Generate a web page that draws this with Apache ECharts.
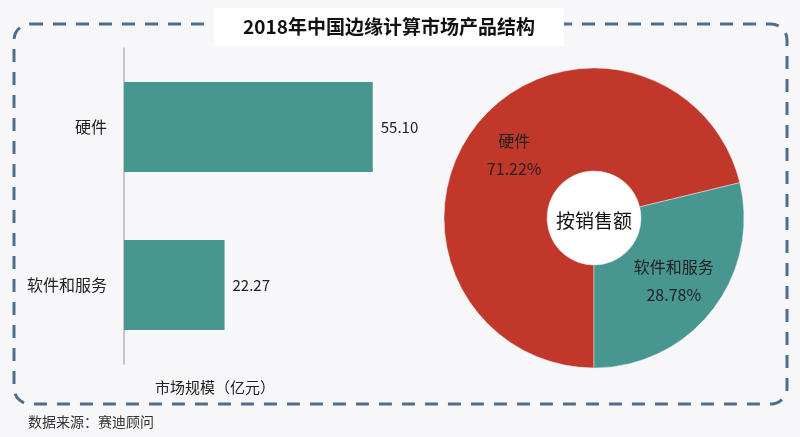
<!DOCTYPE html>
<html><head><meta charset="utf-8">
<script src="https://cdn.jsdelivr.net/npm/echarts@6/dist/echarts.min.js"></script>
<style>html,body{margin:0;padding:0;background:#f7f7f9;}#c{width:800px;height:437px;}</style>
</head><body><div id="c"></div>
<script>
var titleText = '2018年中国边缘计算市场产品结构';
var categories = ['硬件', '软件和服务'];
var marketSize = [55.10, 22.27];
var axisName = '市场规模（亿元）';
var pieCenterText = '按销售额';
var sourceText = '数据来源：赛迪顾问';

var FONT = '"Noto Sans CJK SC", "Noto Sans", sans-serif';
var TEAL = '#479690', RED = '#c1372a';
var total = marketSize.reduce(function(a,b){return a+b;},0);

var chart = echarts.init(document.getElementById('c'));
chart.setOption({
  backgroundColor: '#f7f7f9',
  textStyle: {fontFamily: FONT},
  graphic: [
    {type:'rect', z:1, shape:{x:14, y:24, width:773, height:380, r:16},
     style:{fill:'none', stroke:'#4d6f8d', lineWidth:3, lineDash:[13,10]}},
    {type:'rect', z:2, shape:{x:214, y:8, width:350, height:38},
     style:{fill:'#ffffff'}},
    {type:'text', z:3, x:389, y:27,
     style:{text:titleText, font:'bold 19px ' + FONT, fill:'#111', textAlign:'center', textVerticalAlign:'middle'}},
    {type:'text', z:3, x:215, y:387,
     style:{text:axisName, font:'15px ' + FONT, fill:'#222', textAlign:'center', textVerticalAlign:'middle'}},
    {type:'text', z:3, x:28, y:422,
     style:{text:sourceText, font:'14px ' + FONT, fill:'#333', textAlign:'left', textVerticalAlign:'middle'}},
    {type:'circle', z:1, shape:{cx:594, cy:218, r:48}, style:{fill:'#ffffff'}},
    {type:'text', z:10, x:594, y:221,
     style:{text:pieCenterText, font:'19px ' + FONT, fill:'#111', textAlign:'center', textVerticalAlign:'middle'}}
  ],
  grid: {left:124, top:48, width:316, height:316},
  xAxis: {type:'value', min:0, max:70, show:false},
  yAxis: {type:'category', data:categories, inverse:true,
    axisLine:{show:true, lineStyle:{color:'#b5b5b5', width:1.5}},
    axisTick:{show:false},
    axisLabel:{margin:17, fontSize:16, color:'#222', fontFamily:FONT}},
  series: [
    {type:'bar', data:marketSize, barWidth:90, itemStyle:{color:TEAL},
     label:{show:true, position:'right', distance:8, fontSize:15, color:'#222', fontFamily:FONT,
       formatter:function(p){return p.value.toFixed(2);}}},
    {type:'pie', center:[594,218], radius:[47,150], startAngle:270, clockwise:true,
     data:[{name:categories[0], value:marketSize[0], itemStyle:{color:RED}},
           {name:categories[1], value:marketSize[1], itemStyle:{color:TEAL}}],
     itemStyle:{borderColor:'#e8e8e8', borderWidth:0.5},
     label:{show:true, position:'inside', fontSize:16, lineHeight:28, color:'#222', fontFamily:FONT,
       formatter:function(p){return p.name + '\n' + (p.value/total*100).toFixed(2) + '%';}},
     labelLine:{show:false}, silent:true}
  ]
});
</script></body></html>
